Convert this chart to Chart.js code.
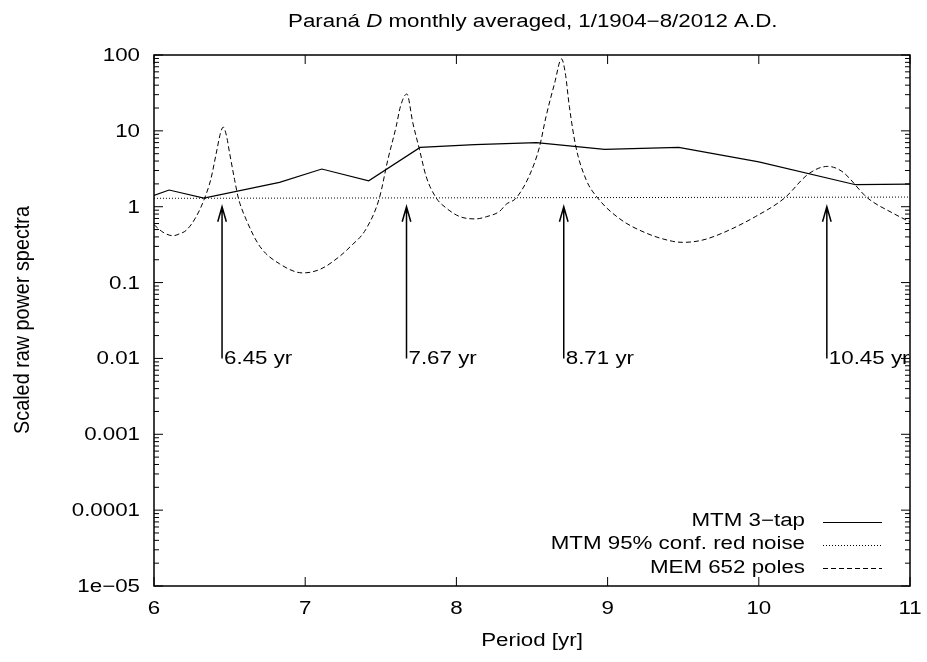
<!DOCTYPE html>
<html>
<head>
<meta charset="utf-8">
<script src="https://cdn.jsdelivr.net/npm/chart.js@4"></script>
<style>
html,body{margin:0;padding:0;background:#fff;}
#wrap{width:927px;height:662px;}
</style>
</head>
<body>
<div id="wrap"><canvas id="c" width="927" height="662"></canvas></div>
<script>
// ---- data ----
const mtmPeriod = [6.0, 6.10, 6.33, 6.83, 7.11, 7.42, 7.76, 8.12, 8.53, 8.98, 9.47, 10.0, 10.64, 11.0];
const mtmPower  = [1.41, 1.66, 1.30, 2.09, 3.14, 2.2, 6.05, 6.6, 6.98, 5.7, 6.05, 3.9, 1.95, 1.99];

const noisePeriod = [6.0, 11.0];
const noisePower  = [1.29, 1.34];

const memPeriod = [6.00, 6.06, 6.126, 6.17, 6.214, 6.28, 6.335, 6.375, 6.412, 6.44, 6.458, 6.48, 6.50, 6.533, 6.558, 6.61, 6.70, 6.83, 6.985, 7.10, 7.227, 7.30, 7.40, 7.49, 7.547, 7.602, 7.63, 7.672, 7.712, 7.756, 7.80, 7.867, 7.93, 8.02, 8.124, 8.20, 8.285, 8.33, 8.395, 8.49, 8.55, 8.593, 8.65, 8.695, 8.72, 8.747, 8.79, 8.858, 8.935, 9.077, 9.254, 9.43, 9.496, 9.62, 9.76, 9.98, 10.17, 10.33, 10.455, 10.55, 10.72, 10.885, 11.00];
const memPower  = [0.58, 0.46, 0.415, 0.44, 0.49, 0.745, 1.3, 2.27, 5.1, 9.4, 11.2, 8.5, 5.1, 2.27, 1.3, 0.675, 0.30, 0.177, 0.134, 0.15, 0.221, 0.30, 0.50, 1.29, 4.2, 11.5, 21, 30.6, 12.7, 5.65, 2.5, 1.3, 0.97, 0.745, 0.69, 0.74, 0.867, 1.08, 1.3, 2.78, 6.2, 15.5, 42.8, 89, 58, 21, 6.2, 2.27, 1.3, 0.70, 0.45, 0.35, 0.339, 0.36, 0.45, 0.745, 1.3, 2.72, 3.40, 2.92, 1.3, 0.826, 0.63];

const peakPeriods = [6.45, 7.67, 8.71, 10.45];
const peakLabels  = ['6.45 yr', '7.67 yr', '8.71 yr', '10.45 yr'];
const arrowFrom = 0.01, arrowTo = 1;

const yTickValues = [1e-5, 1e-4, 1e-3, 1e-2, 1e-1, 1, 10, 100];
const yTickLabels = ['1e\u221205', '0.0001', '0.001', '0.01', '0.1', '1', '10', '100'];
const xTickValues = [6, 7, 8, 9, 10, 11];
const xTickLabels = ['6', '7', '8', '9', '10', '11'];

const legendLabels = ['MTM 3\u2212tap', 'MTM 95% conf. red noise', 'MEM 652 poles'];
const titleParts = [['Paran\u00e1 ', false], ['D', true], [' monthly averaged, 1/1904\u22128/2012 A.D.', false]];
const xTitle = 'Period [yr]';
const yTitle = 'Scaled raw power spectra';

// ---- styling ----
const FONT = '"Liberation Sans", Arial, Helvetica, sans-serif';
const FS = 18;
const SX = 1.24;            // horizontal glyph stretch seen in the reference
const styles = [
  {color:'#000', width:1.2, dash:[]},
  {color:'#000', width:1, dash:[1,2]},
  {color:'#000', width:1, dash:[5,3]}
];

function pts(xs, ys){ return xs.map((x,i)=>({x:x, y:ys[i]})); }

function txt(ctx, s, x, y, align, baseline, o) {
  o = o || {};
  ctx.save();
  ctx.translate(x, y);
  if (o.rot) ctx.rotate(o.rot);
  ctx.scale(o.sx || SX, o.sy || 1);
  ctx.font = (o.italic ? 'italic ' : '') + FS + 'px ' + FONT;
  ctx.textAlign = align;
  ctx.textBaseline = baseline;
  ctx.fillStyle = '#000';
  ctx.fillText(s, 0, 0);
  ctx.restore();
}

const decor = {
  id:'decor',
  afterDraw(chart){
    const ctx = chart.ctx, a = chart.chartArea;
    const xs = chart.scales.x, ys = chart.scales.y;
    ctx.save();
    ctx.strokeStyle = '#000';
    ctx.fillStyle = '#000';
    ctx.setLineDash([]);
    // frame
    ctx.lineWidth = 1.5;
    ctx.strokeRect(a.left, a.top, a.right - a.left, a.bottom - a.top);
    // y ticks (major & minor), both sides, inward
    ctx.lineWidth = 1;
    ctx.beginPath();
    for (let e = -5; e <= 2; e++) {
      const yp = ys.getPixelForValue(Math.pow(10, e));
      ctx.moveTo(a.left, yp); ctx.lineTo(a.left + 9, yp);
      ctx.moveTo(a.right, yp); ctx.lineTo(a.right - 9, yp);
      if (e < 2) {
        for (let m = 2; m <= 9; m++) {
          const yp2 = ys.getPixelForValue(m * Math.pow(10, e));
          ctx.moveTo(a.left, yp2); ctx.lineTo(a.left + 5, yp2);
          ctx.moveTo(a.right, yp2); ctx.lineTo(a.right - 5, yp2);
        }
      }
    }
    xTickValues.forEach(v => {
      const xp = xs.getPixelForValue(v);
      ctx.moveTo(xp, a.bottom); ctx.lineTo(xp, a.bottom - 9);
      ctx.moveTo(xp, a.top); ctx.lineTo(xp, a.top + 9);
    });
    ctx.stroke();
    // tick labels
    yTickValues.forEach((v, i) => txt(ctx, yTickLabels[i], 140, ys.getPixelForValue(v) + 1, 'right', 'middle'));
    xTickValues.forEach((v, i) => txt(ctx, xTickLabels[i], xs.getPixelForValue(v), 609, 'center', 'middle'));
    // axis titles
    txt(ctx, xTitle, (a.left + a.right) / 2, 641, 'center', 'middle');
    txt(ctx, yTitle, 23, 320, 'center', 'middle', {rot: -Math.PI / 2, sx: 1.1, sy: 1.2});
    // arrows
    ctx.lineWidth = 1.5;
    peakPeriods.forEach((p, i) => {
      const xp = xs.getPixelForValue(p);
      const y0 = ys.getPixelForValue(arrowFrom);
      const y1 = ys.getPixelForValue(arrowTo);
      ctx.beginPath();
      ctx.moveTo(xp, y0); ctx.lineTo(xp, y1);
      ctx.moveTo(xp - 4.3, y1 + 15); ctx.lineTo(xp, y1); ctx.lineTo(xp + 4.3, y1 + 15);
      ctx.stroke();
      txt(ctx, peakLabels[i], xp + 2, y0 + 1, 'left', 'middle');
    });
    // legend
    const lx = 805, l0 = 823, l1 = 882;
    const ly = [521.5, 544.5, 568];
    legendLabels.forEach((t, i) => {
      txt(ctx, t, lx, ly[i], 'right', 'middle');
      const s = styles[i];
      ctx.strokeStyle = s.color; ctx.lineWidth = s.width; ctx.setLineDash(s.dash);
      ctx.beginPath(); ctx.moveTo(l0, Math.round(ly[i]) + 0.5); ctx.lineTo(l1, Math.round(ly[i]) + 0.5); ctx.stroke();
    });
    ctx.setLineDash([]);
    // title (mixed italic)
    let total = 0;
    const widths = titleParts.map(p => {
      ctx.font = (p[1] ? 'italic ' : '') + FS + 'px ' + FONT;
      const w = ctx.measureText(p[0]).width * SX; total += w; return w;
    });
    let tx = 288;
    titleParts.forEach((p, i) => { txt(ctx, p[0], tx, 27, 'left', 'alphabetic', {italic: p[1]}); tx += widths[i]; });
    ctx.restore();
  }
};

new Chart(document.getElementById('c'), {
  type: 'line',
  data: {
    datasets: [
      {label: legendLabels[0], data: pts(mtmPeriod, mtmPower), borderColor: styles[0].color, borderWidth: styles[0].width, borderDash: styles[0].dash, pointRadius: 0, tension: 0, fill: false},
      {label: legendLabels[1], data: pts(noisePeriod, noisePower), borderColor: styles[1].color, borderWidth: styles[1].width, borderDash: styles[1].dash, pointRadius: 0, tension: 0, fill: false},
      {label: legendLabels[2], data: pts(memPeriod, memPower), borderColor: styles[2].color, borderWidth: styles[2].width, borderDash: styles[2].dash, pointRadius: 0, cubicInterpolationMode: 'monotone', fill: false}
    ]
  },
  options: {
    responsive: false,
    animation: false,
    devicePixelRatio: 1,
    layout: {padding: {top: 55, right: 17, left: 0, bottom: 0}},
    plugins: {legend: {display: false}, title: {display: false}, tooltip: {enabled: false}},
    scales: {
      x: {
        type: 'linear', min: 6, max: 11,
        afterBuildTicks: s => { s.ticks = xTickValues.map(v => ({value: v})); },
        afterFit: s => { s.height = 76; },
        grid: {display: false, drawTicks: false},
        border: {display: false},
        ticks: {display: false},
        title: {display: false}
      },
      y: {
        type: 'logarithmic', min: 1e-5, max: 100,
        afterBuildTicks: s => { s.ticks = yTickValues.map(v => ({value: v})); },
        afterFit: s => { s.width = 154; },
        grid: {display: false, drawTicks: false},
        border: {display: false},
        ticks: {display: false},
        title: {display: false}
      }
    }
  },
  plugins: [decor]
});
</script>
</body>
</html>
